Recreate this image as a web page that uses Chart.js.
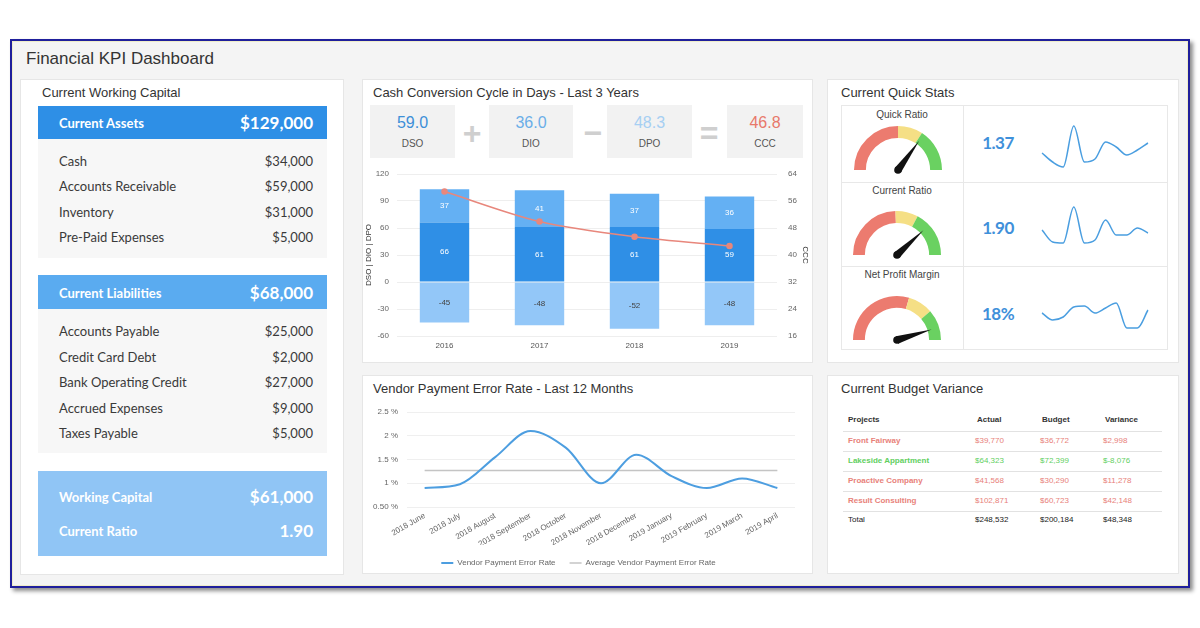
<!DOCTYPE html>
<html>
<head>
<meta charset="utf-8">
<title>Financial KPI Dashboard</title>
<script src="https://cdn.jsdelivr.net/npm/chart.js@4.4.1/dist/chart.umd.min.js"></script>
<style>
  body { margin: 0; width: 1200px; height: 628px; background: #fff; position: relative; overflow: hidden;
         font-family: "Liberation Sans", Arial, sans-serif; color: #333; }
  .abs { position: absolute; white-space: nowrap; }
  #frame { position: absolute; left: 10px; top: 39px; width: 1176px; height: 545px; border: 2px solid #1f1f9c;
           background: #f4f4f4; box-shadow: 3px 3px 4px rgba(0,0,0,0.45), inset 0 0 0 1px #efedca; }
  .panel { position: absolute; background: #fff; border: 1px solid #e6e6e6; box-sizing: border-box; }
  canvas { position: absolute; }
</style>
</head>
<body>
<div id="frame"></div>

<script>
// ---- 数据 ----
// 营运资本
const assetItems = ['Cash', 'Accounts Receivable', 'Inventory', 'Pre-Paid Expenses'];
const assetValues = [34000, 59000, 31000, 5000];
const liabilityItems = ['Accounts Payable', 'Credit Card Debt', 'Bank Operating Credit', 'Accrued Expenses', 'Taxes Payable'];
const liabilityValues = [25000, 2000, 27000, 9000, 5000];

// 现金周转周期
const kpiLabels = ['DSO', 'DIO', 'DPO', 'CCC'];
const kpiValues = ['59.0', '36.0', '48.3', '46.8'];
const years = ['2016', '2017', '2018', '2019'];
const dsoDays = [66, 61, 61, 59];
const dioDays = [37, 41, 37, 36];
const dpoDays = [-45, -48, -52, -48];
const cccDays = [58.8, 49.9, 45.4, 42.7];
const leftTicks = [-60, 120, 30];   // min, max, step
const rightTicks = [16, 64, 8];

// 供应商付款错误率
const months = ['2018 June', '2018 July', '2018 August', '2018 September', '2018 October', '2018 November',
                '2018 December', '2019 January', '2019 February', '2019 March', '2019 April'];
const errorRate = [0.9, 0.98, 1.55, 2.1, 1.75, 1.0, 1.6, 1.15, 0.9, 1.1, 0.9];
const avgErrorRate = [1.27, 1.27, 1.27, 1.27, 1.27, 1.27, 1.27, 1.27, 1.27, 1.27, 1.27];
const rateTickLabels = ['0.50 %', '1 %', '1.5 %', '2 %', '2.5 %'];

// 快速统计
const statNames = ['Quick Ratio', 'Current Ratio', 'Net Profit Margin'];
const statValues = ['1.37', '1.90', '18%'];
const gaugeBands = [[90, 33, 57], [88, 30, 62], [106, 33, 41]];  // red, yellow, green
const gaugeNeedle = [126, 137, 163];                              // of 180
const sparkQuick = [17, 8, 3, 44, 8, 11, 28, 23, 15, 20, 27];
const sparkCurrent = [20, 8, 7, 43, 7, 10, 30, 15, 15, 22, 17];
const sparkMargin = [22, 15, 18, 28, 29, 22, 27, 32, 7, 7, 25];

// 预算差异
const projects = ['Front Fairway', 'Lakeside Appartment', 'Proactive Company', 'Result Consulting'];
const actualCost = [39770, 64323, 41568, 102871];
const budgetCost = [36772, 72399, 30290, 60723];

// ---- 辅助函数 ----
function put(text, x, cy, css, align) {
  const d = document.createElement('div');
  d.className = 'abs';
  d.textContent = text;
  d.style.cssText += css;
  d.style.top = (cy - 12) + 'px';
  d.style.height = '24px';
  d.style.lineHeight = '24px';
  if (align === 'right') d.style.right = (1200 - x) + 'px';
  else if (align === 'center') { d.style.left = (x - 100) + 'px'; d.style.width = '200px'; d.style.textAlign = 'center'; }
  else d.style.left = x + 'px';
  document.body.appendChild(d);
}
function box(x, y, w, h, css, cls) {
  const d = document.createElement('div');
  d.className = cls || 'abs';
  d.style.cssText = 'position:absolute;left:' + x + 'px;top:' + y + 'px;width:' + w + 'px;height:' + h + 'px;' + (css || '');
  document.body.appendChild(d);
  return d;
}
function canvasAt(x, y, w, h) {
  const c = document.createElement('canvas');
  c.width = w; c.height = h;
  c.style.left = x + 'px'; c.style.top = y + 'px';
  document.body.appendChild(c);
  return c;
}
const money = v => '$' + v.toLocaleString('en-US');
const sum = a => a.reduce((s, v) => s + v, 0);

// ---- 框架 ----
put('Financial KPI Dashboard', 26, 59, 'font-size:17px;color:#333');
box(20, 79, 324, 496, '', 'panel');
box(362, 79, 451, 284, '', 'panel');
box(362, 375, 451, 199, '', 'panel');
box(827, 79, 352, 284, '', 'panel');
box(827, 375, 352, 199, '', 'panel');

// ---- 左侧：营运资本 ----
const LF = 'font-family:Lato,"Liberation Sans",sans-serif;';
put('Current Working Capital', 42, 93, 'font-size:13px;color:#333');
box(38, 106, 289, 33, 'background:#2e8fe6');
put('Current Assets', 59, 123, LF + 'font-size:13px;font-weight:bold;color:#fff');
put(money(sum(assetValues)), 313, 123, LF + 'font-size:17px;font-weight:bold;color:#fff', 'right');
box(38, 139, 289, 119, 'background:#f7f7f7');
assetItems.forEach((t, i) => {
  const y = 161 + i * 25.4;
  put(t, 59, y, LF + 'font-size:13px;color:#3a3a3a');
  put(money(assetValues[i]), 313, y, LF + 'font-size:13px;color:#3a3a3a', 'right');
});
box(38, 275, 289, 34, 'background:#5aabf0');
put('Current Liabilities', 59, 293, LF + 'font-size:13px;font-weight:bold;color:#fff');
put(money(sum(liabilityValues)), 313, 293, LF + 'font-size:17px;font-weight:bold;color:#fff', 'right');
box(38, 309, 289, 144, 'background:#f7f7f7');
liabilityItems.forEach((t, i) => {
  const y = 331 + i * 25.5;
  put(t, 59, y, LF + 'font-size:13px;color:#3a3a3a');
  put(money(liabilityValues[i]), 313, y, LF + 'font-size:13px;color:#3a3a3a', 'right');
});
box(38, 471, 289, 85, 'background:#90c5f5');
put('Working Capital', 59, 497, LF + 'font-size:13px;font-weight:bold;color:#fff');
put(money(sum(assetValues) - sum(liabilityValues)), 313, 497, LF + 'font-size:17px;font-weight:bold;color:#fff', 'right');
put('Current Ratio', 59, 531, LF + 'font-size:13px;font-weight:bold;color:#fff');
put((sum(assetValues) / sum(liabilityValues)).toFixed(2), 313, 531, LF + 'font-size:17px;font-weight:bold;color:#fff', 'right');

// ---- 中上：现金周转周期 ----
put('Cash Conversion Cycle in Days - Last 3 Years', 373, 93, 'font-size:13px;color:#333');
const kpiBoxX = [370, 489, 607, 727];
const kpiBoxW = [85, 84, 85, 76];
const kpiColors = ['#3d8fd8', '#6aaee8', '#a6cff3', '#e8786a'];
kpiBoxX.forEach((x, i) => {
  box(x, 105, kpiBoxW[i], 53, 'background:#f2f2f2');
  const cx = x + kpiBoxW[i] / 2;
  put(kpiValues[i], cx, 123, 'font-size:16px;color:' + kpiColors[i], 'center');
  put(kpiLabels[i], cx, 144, 'font-size:10px;color:#555', 'center');
});
['+', '\u2212', '='].forEach((op, i) => {
  put(op, [472, 593, 709][i], 133, 'font-size:32px;font-weight:bold;color:#cfcfcf', 'center');
});

// ---- 中下：供应商付款错误率 ----
put('Vendor Payment Error Rate - Last 12 Months', 373, 389, 'font-size:13px;color:#333');

// ---- 右上：快速统计 ----
put('Current Quick Stats', 841, 93, 'font-size:13px;color:#333');
box(841, 105, 327, 245, 'border:1px solid #e8e8e8;box-sizing:border-box');
box(963, 105, 1, 245, 'background:#e8e8e8');
box(841, 182, 327, 1, 'background:#e8e8e8');
box(841, 266, 327, 1, 'background:#e8e8e8');
const rowCY = [143, 228, 314];
const labelCY = [115, 191, 275];
statNames.forEach((n, i) => {
  put(n, 902, labelCY[i], 'font-size:10px;color:#444', 'center');
  put(statValues[i], 998, rowCY[i], LF + 'font-size:17px;font-weight:bold;letter-spacing:-0.5px;color:#3f90da', 'center');
});

// ---- 右下：预算差异 ----
put('Current Budget Variance', 841, 389, 'font-size:13px;color:#333');
const colX = [848, 975, 1040, 1103];
['Projects', 'Actual', 'Budget', 'Variance'].forEach((h, i) => {
  put(h, colX[i] + (i ? 2 : 0), 420, 'font-size:8px;font-weight:bold;color:#333');
});
[431, 451, 471, 491, 511].forEach(y => box(843, y, 319, 1, 'background:#e2e2e2'));
projects.forEach((p, i) => {
  const y = 441 + i * 20;
  const variance = actualCost[i] - budgetCost[i];
  const col = variance < 0 ? '#5fcf5f' : '#e8817a';
  put(p, colX[0], y, 'font-size:8px;font-weight:bold;color:' + col);
  put(money(actualCost[i]), colX[1], y, 'font-size:8px;color:' + col);
  put(money(budgetCost[i]), colX[2], y, 'font-size:8px;color:' + col);
  put(money(variance), colX[3], y, 'font-size:8px;color:' + col);
});
put('Total', colX[0], 520, 'font-size:8px;color:#222');
put(money(sum(actualCost)), colX[1], 520, 'font-size:8px;color:#222');
put(money(sum(budgetCost)), colX[2], 520, 'font-size:8px;color:#222');
put(money(sum(actualCost) - sum(budgetCost)), colX[3], 520, 'font-size:8px;color:#222');

// ---- 图表 ----
Chart.defaults.font.family = '"Liberation Sans", Arial, sans-serif';
Chart.defaults.color = '#666';
Chart.defaults.animation = false;
Chart.defaults.devicePixelRatio = 1;
Chart.defaults.plugins.tooltip.enabled = false;

// 柱子上的数值
const barLabels = {
  id: 'barLabels',
  afterDatasetsDraw(chart) {
    const ctx = chart.ctx;
    chart.data.datasets.forEach((ds, i) => {
      if (ds.type === 'line') return;
      chart.getDatasetMeta(i).data.forEach((bar, j) => {
        const v = ds.data[j];
        ctx.save();
        ctx.fillStyle = v < 0 ? '#444' : '#fff';
        ctx.font = '8px "Liberation Sans", Arial, sans-serif';
        ctx.textAlign = 'center';
        ctx.textBaseline = 'middle';
        ctx.fillText(String(v), bar.x, (bar.y + bar.base) / 2);
        ctx.restore();
      });
    });
  }
};

// 固定纵轴宽度和上下留白
const fixY = w => s => { s.width = w; s.paddingTop = 9; s.paddingBottom = 0; };

new Chart(canvasAt(362, 165, 450, 190), {
  type: 'bar',
  data: {
    labels: years,
    datasets: [
      { type: 'line', label: 'CCC', data: cccDays, yAxisID: 'y1', borderColor: '#e8877c', backgroundColor: '#e8877c',
        borderWidth: 1.5, pointRadius: 2.5, tension: 0.3, order: 0 },
      { label: 'DSO', data: dsoDays, backgroundColor: '#2f8fe6', order: 1 },
      { label: 'DIO', data: dioDays, backgroundColor: '#64b0f3', order: 1 },
      { label: 'DPO', data: dpoDays, backgroundColor: '#93c7f8', order: 1 }
    ]
  },
  options: {
    responsive: false,
    layout: { padding: 0 },
    datasets: { bar: { barPercentage: 0.52, categoryPercentage: 1 } },
    plugins: { legend: { display: false } },
    scales: {
      x: { stacked: true, grid: { display: false, drawTicks: false }, border: { display: false },
           ticks: { font: { size: 8 }, color: '#555', padding: 5 },
           afterFit: s => { s.height = 19; } },
      y: { stacked: true, min: leftTicks[0], max: leftTicks[1],
           ticks: { stepSize: leftTicks[2], font: { size: 8 }, padding: 8 },
           grid: { color: '#eeeeee', drawTicks: false }, border: { display: false },
           title: { display: true, text: 'DSO | DIO | DPO', font: { size: 8 }, color: '#333', padding: { top: 2, bottom: 0 } },
           afterFit: fixY(35) },
      y1: { position: 'right', min: rightTicks[0], max: rightTicks[1],
            ticks: { stepSize: rightTicks[2], font: { size: 8 }, padding: 11 },
            grid: { display: false, drawTicks: false }, border: { display: false },
            title: { display: true, text: 'CCC', font: { size: 8 }, color: '#333', padding: { top: 2, bottom: 0 } },
            afterFit: fixY(35) }
    }
  },
  plugins: [barLabels]
});

// 错误率折线
new Chart(canvasAt(362, 398, 450, 179), {
  type: 'line',
  data: {
    labels: months,
    datasets: [
      { label: 'Vendor Payment Error Rate', data: errorRate, borderColor: '#4d9ee0', backgroundColor: '#4d9ee0',
        borderWidth: 2, pointRadius: 0, cubicInterpolationMode: 'monotone' },
      { label: 'Average Vendor Payment Error Rate', data: avgErrorRate, borderColor: '#c4c4c4', backgroundColor: '#c4c4c4',
        borderWidth: 1.5, pointRadius: 0 }
    ]
  },
  options: {
    responsive: false,
    layout: { padding: { top: 0, right: 17 } },
    plugins: {
      legend: { position: 'bottom',
        labels: { font: { size: 8 }, color: '#666', usePointStyle: true, pointStyle: 'line', pointStyleWidth: 12,
                  boxHeight: 8, padding: 14 } }
    },
    scales: {
      x: { offset: true, grid: { display: false, drawTicks: false }, border: { display: false },
           ticks: { font: { size: 8 }, color: '#666', minRotation: 30, maxRotation: 30, autoSkip: false, padding: 4 },
           afterFit: s => { s.height = 38; } },
      y: { min: 0.5, max: 2.5,
           ticks: { stepSize: 0.5, font: { size: 8 }, color: '#666', padding: 9,
                    callback: (v, i) => rateTickLabels[i] },
           grid: { color: '#efefef', drawTicks: false }, border: { display: false },
           afterFit: s => { s.width = 45; s.paddingTop = 14; s.paddingBottom = 0; } }
    }
  }
});

// 仪表盘指针
const needle = {
  id: 'needle',
  afterDatasetsDraw(chart, args, opts) {
    const arc = chart.getDatasetMeta(0).data[0];
    const total = sum(chart.data.datasets[0].data);
    const ang = Math.PI + (opts.value / total) * Math.PI;
    const len = arc.innerRadius + 4;
    const ctx = chart.ctx;
    const cx = arc.x, cy = arc.y;
    ctx.save();
    ctx.fillStyle = '#111';
    ctx.beginPath();
    ctx.moveTo(cx + len * Math.cos(ang), cy + len * Math.sin(ang));
    ctx.lineTo(cx + 3.8 * Math.cos(ang + Math.PI / 2), cy + 3.8 * Math.sin(ang + Math.PI / 2));
    ctx.lineTo(cx + 3.8 * Math.cos(ang - Math.PI / 2), cy + 3.8 * Math.sin(ang - Math.PI / 2));
    ctx.closePath();
    ctx.fill();
    ctx.beginPath();
    ctx.arc(cx, cy, 3.8, 0, Math.PI * 2);
    ctx.fill();
    ctx.restore();
  }
};

const gaugePos = [[853, 125], [852, 210], [852, 295]];
const sparkTop = [120, 200, 285];
const sparkData = [sparkQuick, sparkCurrent, sparkMargin];

gaugeBands.forEach((bands, i) => {
  new Chart(canvasAt(gaugePos[i][0], gaugePos[i][1], 90, 50), {
    type: 'doughnut',
    data: { labels: ['Low', 'Mid', 'High'],
            datasets: [{ data: bands, backgroundColor: ['#ec7b6f', '#f5df85', '#6ad161'], borderWidth: 0 }] },
    options: {
      responsive: false, rotation: -90, circumference: 180, cutout: '73%',
      layout: { padding: { left: 1, right: 1, top: 1, bottom: 5 } },
      plugins: { legend: { display: false }, needle: { value: gaugeNeedle[i] } }
    },
    plugins: [needle]
  });

  new Chart(canvasAt(1040, sparkTop[i], 110, 55), {
    type: 'line',
    data: { labels: sparkData[i].map((_, k) => k),
            datasets: [{ data: sparkData[i], borderColor: '#4a9ee0', borderWidth: 1.5, pointRadius: 0,
                         cubicInterpolationMode: 'monotone' }] },
    options: {
      responsive: false,
      layout: { padding: { left: 2, right: 2, top: 0, bottom: 0 } },
      plugins: { legend: { display: false } },
      scales: { x: { display: false }, y: { display: false, min: -5, max: 50 } }
    }
  });
});
</script>
</body>
</html>
